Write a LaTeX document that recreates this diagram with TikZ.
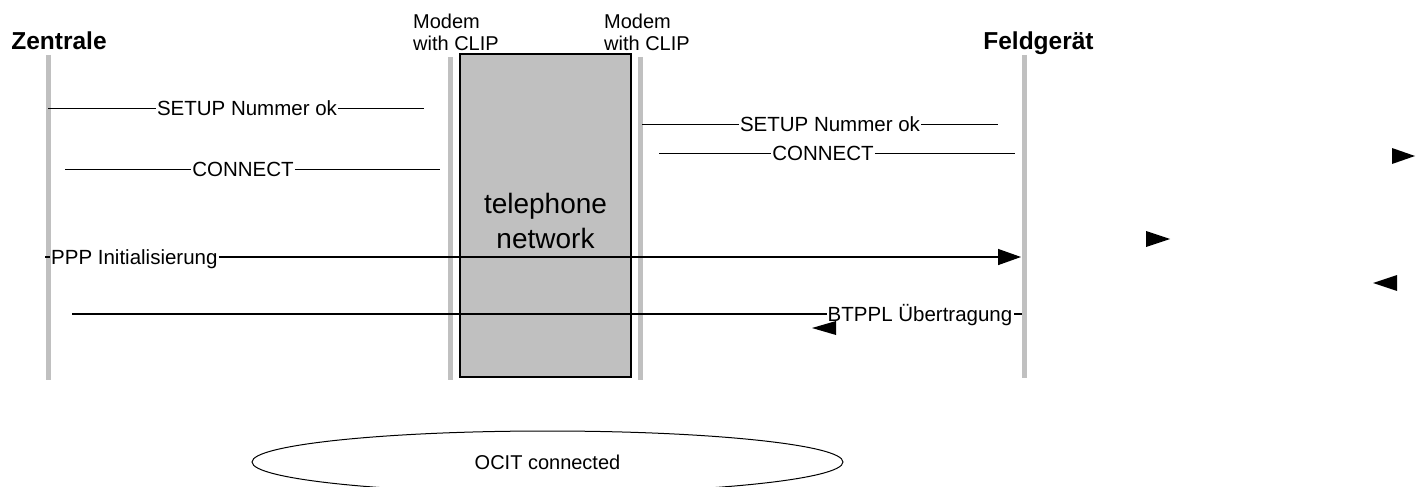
\documentclass[tikz,border=0pt]{standalone}
\usepackage{fontspec}
\setmainfont{Liberation Sans}
\usetikzlibrary{arrows.meta,shapes.geometric}
\definecolor{lgray}{HTML}{C0C0C0}
\begin{document}
\begin{tikzpicture}[x=1pt,y=-1pt,
  lifeline/.style={draw=lgray,line width=5pt},
  actor/.style={font=\bfseries\fontsize{24.5}{29}\selectfont,inner sep=0pt,anchor=base},
  modem/.style={font=\fontsize{20}{22}\selectfont,align=left,inner sep=0pt,anchor=north west},
  msg/.style={font=\fontsize{20.5}{24}\selectfont,inner sep=1pt,text height=14.6pt,text depth=0pt},
  msgline/.style={line width=1pt},
  sigline/.style={line width=1.4pt},
  tip/.style={fill=black},
  bigtip/.style={-{Triangle[length=23pt,width=16pt]}},
]
\useasboundingbox (0,0) rectangle (1416,487);
\clip (0,0) rectangle (1416,487);

% actors
\node[actor] (zentrale) at (59,50) {Zentrale};
\node[actor] (feld) at (1038.5,50) {Feldgerät};
\node[modem] (modemA) at (413,13.5) {Modem\\with CLIP};
\node[modem] (modemB) at (604,13.5) {Modem\\with CLIP};

% lifelines
\coordinate (zt) at (48.5,55);  \coordinate (zb) at (48.5,380);
\coordinate (mat) at (450.5,57); \coordinate (mab) at (450.5,380);
\coordinate (mbt) at (640.5,57); \coordinate (mbb) at (640.5,380);
\coordinate (ft) at (1024,55);  \coordinate (fb) at (1024,378);
\draw[lifeline] (zt) -- (zb);
\draw[lifeline] (mat) -- (mab);
\draw[lifeline] (mbt) -- (mbb);
\draw[lifeline] (ft) -- (fb);

% telephone network
\node[draw,fill=lgray,line width=2pt,minimum width=171pt,minimum height=322pt,
      inner sep=0pt] (net) at (545.5,215.5) {};
\node[font=\fontsize{28}{35}\selectfont,align=center,inner sep=0pt] (netlabel)
      at (545.5,221) {telephone\\network};

% SETUP left
\coordinate (s1a) at (48,108); \coordinate (s1b) at (424,108);
\node[msg] (s1) at (247,108) {SETUP Nummer ok};
\draw[msgline] (s1a) -- (s1.west);
\draw[msgline] (s1.east) -- (s1b);

% CONNECT left
\coordinate (c1a) at (65,169); \coordinate (c1b) at (440,169);
\node[msg] (c1) at (243,169) {CONNECT};
\draw[msgline] (c1a) -- (c1.west);
\draw[msgline] (c1.east) -- (c1b);

% SETUP right
\coordinate (s2a) at (642,124); \coordinate (s2b) at (998,124);
\node[msg] (s2) at (830,124) {SETUP Nummer ok};
\draw[msgline] (s2a) -- (s2.west);
\draw[msgline] (s2.east) -- (s2b);

% CONNECT right
\coordinate (c2a) at (659,153); \coordinate (c2b) at (1015,153);
\node[msg] (c2) at (823,153) {CONNECT};
\draw[msgline] (c2a) -- (c2.west);
\draw[msgline] (c2.east) -- (c2b);

% PPP
\coordinate (p0) at (45,257); \coordinate (p1) at (1021,257);
\node[msg,anchor=west] (ppp) at (50,257) {PPP Initialisierung};
\draw[sigline] (p0) -- (ppp.west);
\draw[sigline,bigtip] (ppp.east) -- (p1);

% BTPPL
\coordinate (b0) at (72,314); \coordinate (b1) at (1022,314);
\node[msg] (btppl) at (920,314) {BTPPL Übertragung};
\draw[sigline] (b1) -- (btppl.east);
\draw[sigline] (btppl.west) -- (b0);

% loose arrowheads
\fill[tip] (836,321) -- (812,328) -- (836,335) -- cycle;
\fill[tip] (1392,148) -- (1415,156) -- (1392,164) -- cycle;
\fill[tip] (1146,231) -- (1170,239) -- (1146,247) -- cycle;
\fill[tip] (1397,275) -- (1373,283) -- (1397,291) -- cycle;

% OCIT
\node[ellipse,draw,line width=1pt,minimum width=591pt,minimum height=62pt,
      inner sep=0pt,font=\fontsize{20}{24}\selectfont] (ocit) at (547.5,462) {OCIT connected};
\end{tikzpicture}
\end{document}
